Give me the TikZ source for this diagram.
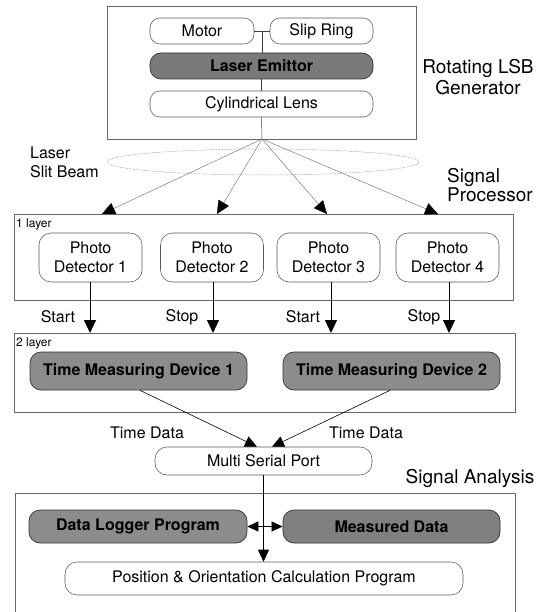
\documentclass[tikz,border=0pt]{standalone}
\usepackage{fontspec}
\setmainfont{TeX Gyre Heros}
\usetikzlibrary{arrows.meta,shapes.geometric}
\begin{document}
\begin{tikzpicture}[x=1pt,y=-1pt,
  every node/.style={font=\fontsize{16}{18}\selectfont, inner sep=0pt},
  wbox/.style={draw=black!65, line width=0.55pt, rounded corners=10pt, fill=white},
  gbox/.style={draw=black!80, line width=0.7pt, rounded corners=11pt, fill=black!45,
               font=\fontsize{16}{18}\selectfont\bfseries},
  frame/.style={draw=black!60, line width=0.5pt},
  big/.style={font=\fontsize{19}{21}\selectfont},
  small/.style={font=\fontsize{12}{14}\selectfont, anchor=west},
  beam/.style={draw=black!60, line width=0.4pt, -{Triangle[length=13pt,width=12pt,fill=black,color=black]}},
  down/.style={draw=black, line width=0.9pt, -{Triangle[length=13pt,width=12pt]}},
  data/.style={draw=black, line width=0.6pt, -{Triangle[length=12pt,width=11pt]}},
  conn/.style={draw=black!75, line width=0.5pt},
]
\useasboundingbox (0,0) rectangle (543,612);

% ---- Rotating LSB generator
\draw[frame] (107,6) rectangle (416,139);
\node[wbox, minimum width=104pt, minimum height=26pt] (motor) at (202,31) {Motor};
\node[wbox, minimum width=103pt, minimum height=26pt] (slip) at (321.5,31) {Slip Ring};
\node[gbox, minimum width=223pt, minimum height=26pt, fill=black!52] (laser) at (261.5,66) {Laser Emittor};
\node[wbox, minimum width=223pt, minimum height=26pt] (lens) at (261.5,104) {Cylindrical Lens};
\coordinate (mid) at (262,31);
\coordinate (apex) at (262,139);
\draw[conn] (motor.east) -- (slip.west);
\draw[conn] (mid) -- (mid |- laser.north);
\draw[conn] (laser.south) -- (lens.north);
\draw[conn] (lens.south) -- (apex);
\node[big, align=center] (gen) at (478,77.5) {Rotating LSB\\Generator};

% ---- beam
\node[draw=black!60, densely dotted, line width=0.5pt, ellipse, minimum width=312pt, minimum height=26pt] (plane) at (263,162) {};
\node[align=left, anchor=west, font=\fontsize{16}{19}\selectfont] (lsb) at (30,162.5) {Laser\\Slit Beam};
\node[big, align=left, anchor=west, font=\fontsize{19}{19}\selectfont] (sp) at (447,185) {Signal\\Processor};

% ---- layer 1
\draw[frame] (14,214) rectangle (513,300);
\node[small] (l1) at (16,224) {1 layer};
\coordinate (t1) at (102,214);
\coordinate (t2) at (217,214);
\coordinate (t3) at (327,214);
\coordinate (t4) at (438,214);
\draw[beam] (apex) -- (t1);
\draw[beam] (apex) -- (t2);
\draw[beam] (apex) -- (t3);
\draw[beam] (apex) -- (t4);
\foreach \n/\x in {1/90.5,2/212,3/328.5,4/447.5}{
  \node[wbox, rounded corners=12pt, minimum width=103pt, minimum height=49pt, align=center,
        font=\fontsize{16}{19}\selectfont] (d\n) at (\x,257.5) {Photo\\Detector \n};
}

% ---- layer 2
\draw[frame] (14,333) rectangle (515,412);
\coordinate (l2top) at (0,333);
\node[small] (l2) at (16,343) {2 layer};
\draw[down] ([xshift=-0.5pt]d1.south) -- ([xshift=-0.5pt]d1.south |- l2top);
\draw[down] ([xshift=1pt]d2.south) -- ([xshift=1pt]d2.south |- l2top);
\draw[down] ([xshift=2.5pt]d3.south) -- ([xshift=2.5pt]d3.south |- l2top);
\draw[down] ([xshift=1.5pt]d4.south) -- ([xshift=1.5pt]d4.south |- l2top);
\node (s1) at (58,317) {Start};
\node (s2) at (182,317) {Stop};
\node (s3) at (303,317) {Start};
\node (s4) at (424,317) {Stop};
\node[gbox, minimum width=217pt, minimum height=38pt] (tmd1) at (138.5,371) {Time Measuring Device 1};
\node[gbox, minimum width=217pt, minimum height=38pt] (tmd2) at (391.5,371) {Time Measuring Device 2};

% ---- serial port
\node[wbox, rounded corners=12pt, minimum width=217pt, minimum height=28pt] (msp) at (263.5,461) {Multi Serial Port};
\draw[data] ([xshift=1.5pt]tmd1.south) -- ([xshift=-6.5pt]msp.north);
\draw[data] ([xshift=-1.5pt]tmd2.south) -- ([xshift=8.5pt]msp.north);
\node (td1) at (147,433) {Time Data};
\node (td2) at (366,433) {Time Data};
\node[big] (sa) at (470,478) {Signal Analysis};

% ---- layer 3
\draw[frame] (15,612) -- (15,493) -- (515,493) -- (515,612);
\node[gbox, minimum width=218pt, minimum height=33pt] (dlp) at (138,526.5) {Data Logger Program};
\node[gbox, minimum width=217pt, minimum height=33pt, fill=black!50] (md) at (391.5,526.5) {Measured Data};
\node[wbox, rounded corners=12pt, minimum width=398pt, minimum height=33pt] (pos) at (264,578.5) {Position \& Orientation Calculation Program};
\draw[data] (msp.south) -- (msp.south |- pos.north);
\draw[draw=black, line width=0.6pt, {Triangle[length=11pt,width=10pt]}-{Triangle[length=11pt,width=10pt]}] (dlp.east) -- (md.west);
\end{tikzpicture}
\end{document}
